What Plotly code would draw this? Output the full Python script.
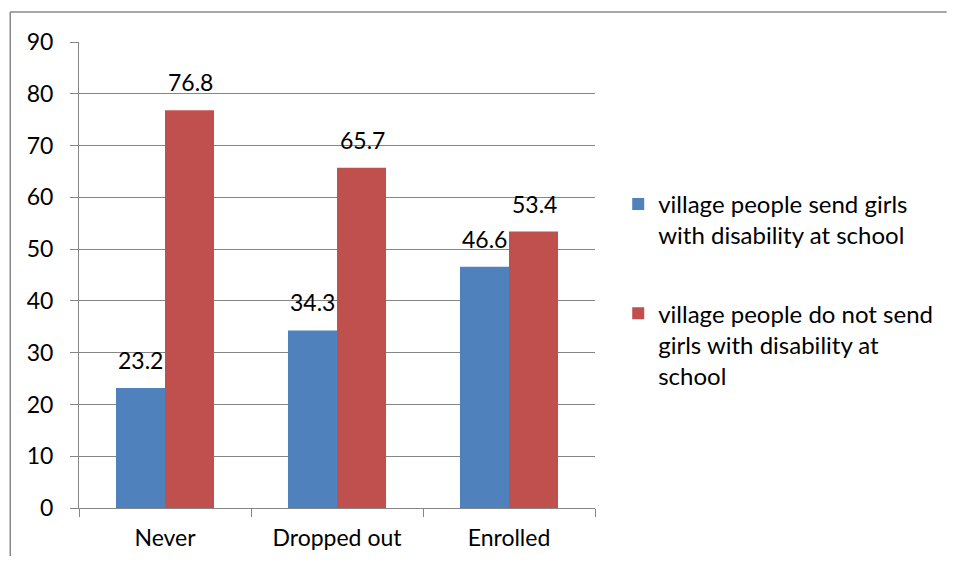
import plotly.graph_objects as go

# data
categories = ["Never", "Dropped out", "Enrolled"]
send_vals = [23.2, 34.3, 46.6]
not_send_vals = [76.8, 65.7, 53.4]
send_name = "village people send girls<br>with disability at school"
not_send_name = "village people do not send<br>girls with disability at<br>school"

blue = "#4F81BD"
red = "#C0504D"
grid = "#868686"
font_fam = "Lato, Carlito, Calibri, sans-serif"
fs = 23

W, H = 942, 548
L, R, T, B = 71, 353, 34, 48
pw, ph = W - L - R, H - T - B

fig = go.Figure()
fig.add_trace(go.Bar(x=categories, y=send_vals, name=send_name,
                     marker=dict(color=blue, line=dict(width=0)),
                     legendgroup="a"))
fig.add_trace(go.Bar(x=categories, y=not_send_vals, name=not_send_name,
                     marker=dict(color=red, line=dict(width=0)),
                     legendgroup="b"))

# data labels above the bars
for vals, shift in [(send_vals, -25), (not_send_vals, 25)]:
    for c, v in zip(categories, vals):
        fig.add_annotation(x=c, y=v, text=f"{v:.1f}", showarrow=False,
                           xshift=shift, yshift=12, yanchor="bottom",
                           font=dict(size=fs, color="black", family=font_fam))

# outer chart border: only top and left edges are visible in the original
bx = (2 - L) / pw
by = (H - B - 4) / ph
fig.add_shape(type="line", xref="paper", yref="paper",
              x0=bx, x1=(W - L) / pw, y0=by, y1=by,
              line=dict(color="#888888", width=1.5))
fig.add_shape(type="line", xref="paper", yref="paper",
              x0=bx, x1=bx, y0=by, y1=-B / ph,
              line=dict(color="#888888", width=1.5))

fig.update_layout(
    width=W, height=H,
    margin=dict(l=L, r=R, t=T, b=B),
    paper_bgcolor="white", plot_bgcolor="white",
    barmode="group", bargap=0.43, bargroupgap=0,
    font=dict(family=font_fam, size=fs, color="black"),
    showlegend=True,
    legend=dict(x=1.045, xanchor="left", y=0.70, yanchor="top",
                valign="top", tracegroupgap=44,
                font=dict(size=24, family=font_fam)),
    xaxis=dict(showline=True, linecolor=grid, linewidth=1,
               ticks="outside", ticklen=8, tickcolor=grid,
               tickson="boundaries", showgrid=False, automargin=False,
               ticklabelstandoff=9, tickfont=dict(size=fs)),
    yaxis=dict(range=[0, 90], dtick=10, showline=True, linecolor=grid,
               linewidth=1, ticks="outside", ticklen=8, tickcolor=grid,
               showgrid=True, gridcolor=grid, gridwidth=1, automargin=False,
               zeroline=False, ticklabelstandoff=12,
               tickfont=dict(size=fs)),
)

fig.write_html("out.html")
